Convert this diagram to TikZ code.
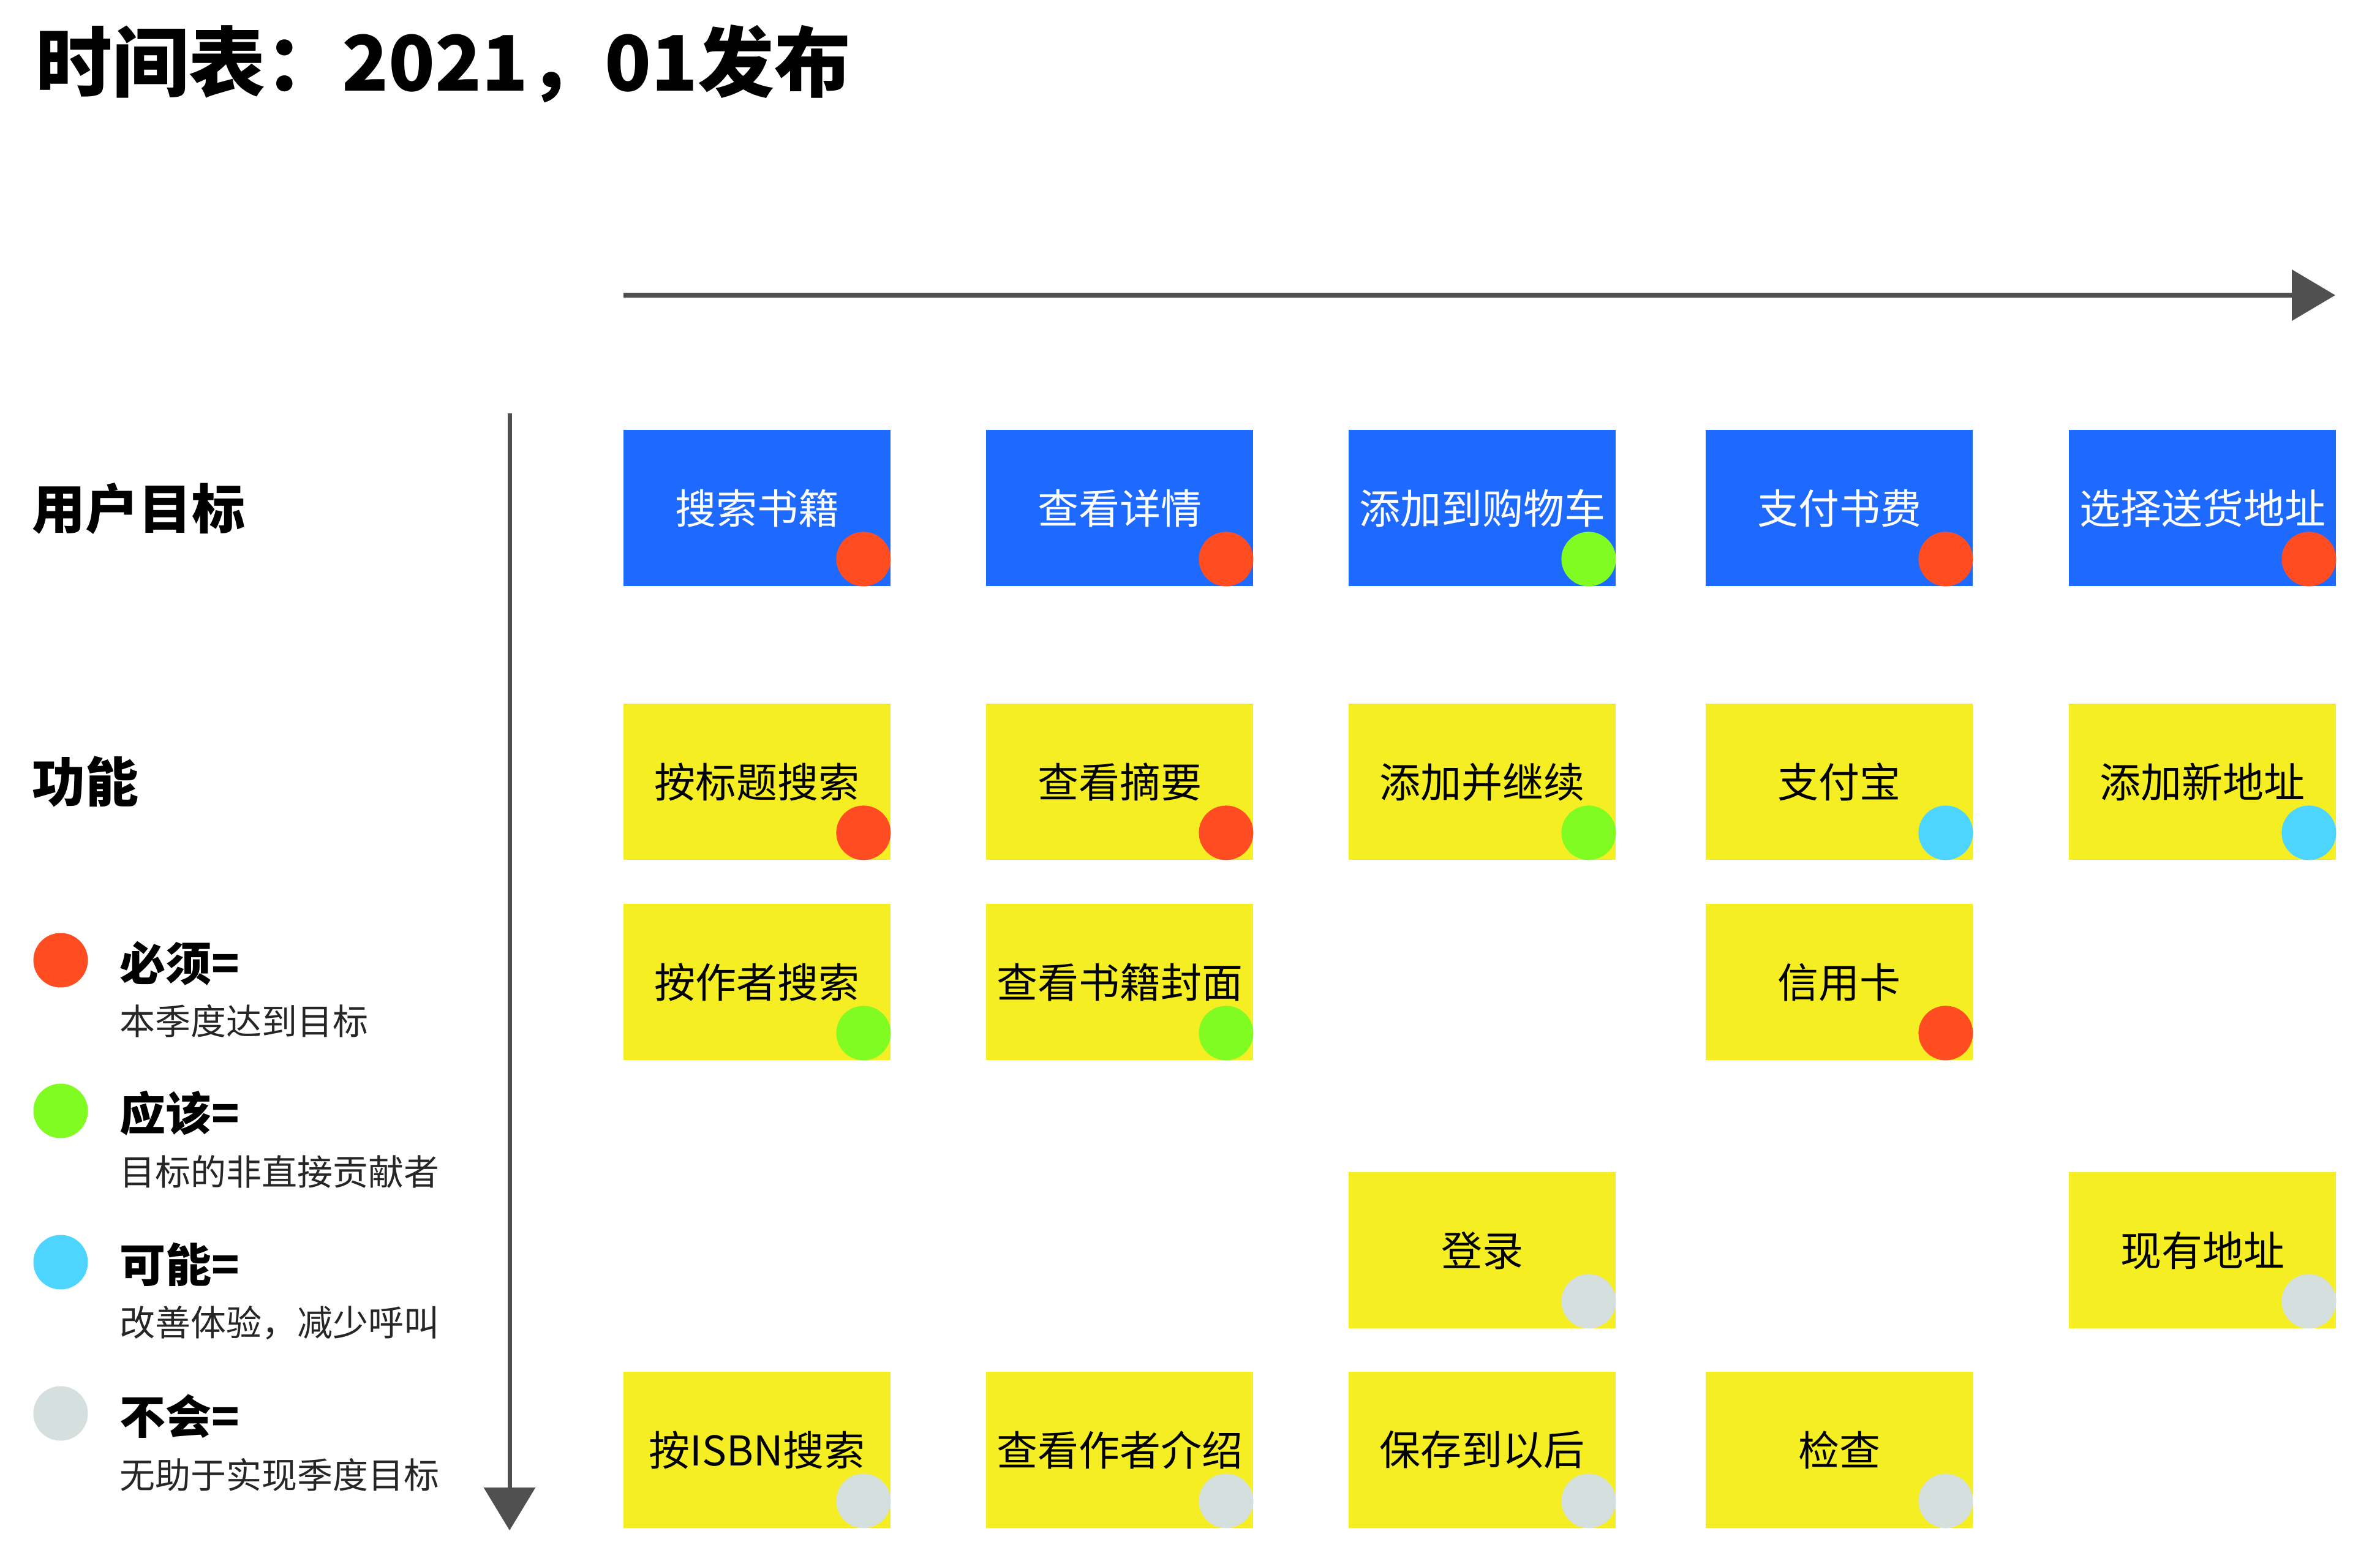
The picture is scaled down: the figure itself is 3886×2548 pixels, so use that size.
\documentclass[tikz,border=0pt]{standalone}
\usepackage{fontspec}
\setmainfont{Noto Sans CJK SC}
\usetikzlibrary{arrows.meta}
\definecolor{goalblue}{HTML}{1E6AFF}
\definecolor{featyellow}{HTML}{F5EE22}
\definecolor{mustred}{HTML}{FF4D21}
\definecolor{shouldgreen}{HTML}{80FC22}
\definecolor{couldcyan}{HTML}{4DD4FF}
\definecolor{wontgrey}{HTML}{D5DFDD}
\definecolor{axisgrey}{HTML}{505050}
\tikzset{
  box/.style={anchor=north west, inner sep=0pt, minimum width=436pt, minimum height=255pt,
    font=\fontsize{67}{80}\selectfont},
  goalbox/.style={box, fill=goalblue, text=white},
  featbox/.style={box, fill=featyellow, text=black},
  dot/.style={circle, inner sep=0pt, minimum size=89pt, draw=none},
  axis/.style={draw=axisgrey, line width=8pt, -{Triangle[length=71pt,width=82pt]}},
  headlabel/.style={anchor=west, inner sep=0pt, font=\fontsize{87}{100}\selectfont\bfseries},
  legendhead/.style={anchor=west, inner sep=0pt, font=\fontsize{75}{90}\selectfont\bfseries},
  legendsub/.style={anchor=west, inner sep=0pt, text=black!85, font=\fontsize{58}{70}\selectfont},
}
\newcommand{\mkdot}[2]{\node[dot, fill=#2] (#1d) at ([shift={(-44.5,-44.5)}]#1.south east) {};}
\begin{document}
\begin{tikzpicture}[x=1pt, y=-1pt]
\useasboundingbox[fill=white] (0,0) rectangle (3886,2548);

% title
\node[anchor=west, inner sep=0pt, font=\fontsize{125}{140}\selectfont\bfseries] (title) at (58,104) {时间表：2021，01发布};

% axes
\coordinate (hs) at (1018,482);
\coordinate (he) at (3813,482);
\draw[axis] (hs) -- (he);
\coordinate (vs) at (832,675);
\coordinate (ve) at (832,2499);
\draw[axis, line width=7pt, -{Triangle[length=70pt,width=83pt]}] (vs) -- (ve);

% row labels
\node[headlabel] (lgoal) at (52,831) {用户目标};
\node[headlabel] (lfeat) at (52,1276) {功能};

% row 1 : goals
\node[goalbox] (g1) at (1018,702) {搜索书籍};
\node[goalbox] (g2) at (1610,702) {查看详情};
\node[goalbox] (g3) at (2202,702) {添加到购物车};
\node[goalbox] (g4) at (2785,702) {支付书费};
\node[goalbox] (g5) at (3378,702) {选择送货地址};
\mkdot{g1}{mustred}
\mkdot{g2}{mustred}
\mkdot{g3}{shouldgreen}
\mkdot{g4}{mustred}
\mkdot{g5}{mustred}

% row 2
\node[featbox] (a1) at (1018,1149) {按标题搜索};
\node[featbox] (a2) at (1610,1149) {查看摘要};
\node[featbox] (a3) at (2202,1149) {添加并继续};
\node[featbox] (a4) at (2785,1149) {支付宝};
\node[featbox] (a5) at (3378,1149) {添加新地址};
\mkdot{a1}{mustred}
\mkdot{a2}{mustred}
\mkdot{a3}{shouldgreen}
\mkdot{a4}{couldcyan}
\mkdot{a5}{couldcyan}

% row 3
\node[featbox] (b1) at (1018,1476) {按作者搜索};
\node[featbox] (b2) at (1610,1476) {查看书籍封面};
\node[featbox] (b4) at (2785,1476) {信用卡};
\mkdot{b1}{shouldgreen}
\mkdot{b2}{shouldgreen}
\mkdot{b4}{mustred}

% row 4
\node[featbox] (c3) at (2202,1914) {登录};
\node[featbox] (c5) at (3378,1914) {现有地址};
\mkdot{c3}{wontgrey}
\mkdot{c5}{wontgrey}

% row 5
\node[featbox] (e1) at (1018,2240) {按ISBN搜索};
\node[featbox] (e2) at (1610,2240) {查看作者介绍};
\node[featbox] (e3) at (2202,2240) {保存到以后};
\node[featbox] (e4) at (2785,2240) {检查};
\mkdot{e1}{wontgrey}
\mkdot{e2}{wontgrey}
\mkdot{e3}{wontgrey}
\mkdot{e4}{wontgrey}

% legend
\node[dot, fill=mustred] (k1) at (99,1568) {};
\node[legendhead] (k1h) at (195,1573) {必须=};
\node[legendsub] (k1s) at (195,1667) {本季度达到目标};
\node[dot, fill=shouldgreen] (k2) at (99,1814) {};
\node[legendhead] (k2h) at (195,1818) {应该=};
\node[legendsub] (k2s) at (195,1913) {目标的非直接贡献者};
\node[dot, fill=couldcyan] (k3) at (99,2061) {};
\node[legendhead] (k3h) at (195,2065) {可能=};
\node[legendsub] (k3s) at (195,2160) {改善体验，减少呼叫};
\node[dot, fill=wontgrey] (k4) at (99,2308) {};
\node[legendhead] (k4h) at (195,2313) {不会=};
\node[legendsub] (k4s) at (195,2408) {无助于实现季度目标};
\end{tikzpicture}
\end{document}
